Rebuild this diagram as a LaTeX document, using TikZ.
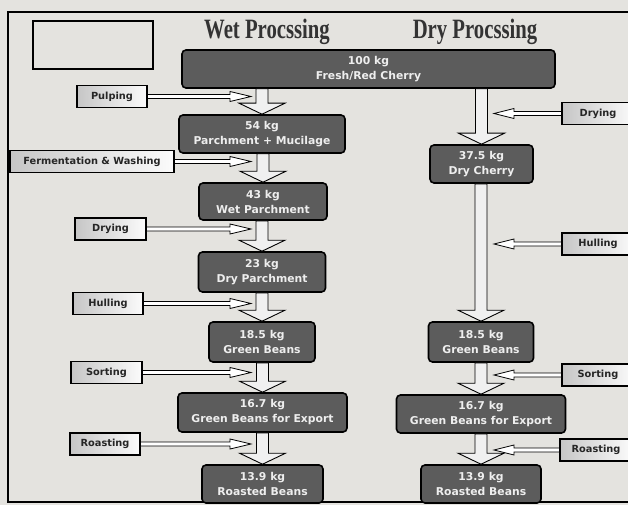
\documentclass[tikz,border=0pt]{standalone}
\usepackage{fontspec}
\usepackage{graphicx}
\setmainfont{Liberation Serif}
\newfontfamily\boxfont{DejaVu Sans}
\usetikzlibrary{calc}
\definecolor{paper}{RGB}{228,227,223}
\definecolor{darkfill}{RGB}{92,92,92}
\definecolor{lighttext}{RGB}{238,238,238}
\newcommand\vblock[2]{%
  \draw[vblockstyle] let \p1=(#1.south -| #2.north), \p2=(#2.north) in
    (\x1-6pt,\y1) -- (\x1-6pt,\y2+11pt) -- (\x1-23pt,\y2+11pt) -- (\x2,\y2)
    -- (\x1+23pt,\y2+11pt) -- (\x1+6pt,\y2+11pt) -- (\x1+6pt,\y1) -- cycle;}
\newcommand\hright[2]{%
  \draw[hblockstyle] let \p1=(#1.east), \p2=(#2 |- #1.east) in
    (\x1,\y1+2pt) -- (\x2-21pt,\y1+2pt) -- (\x2-21pt,\y1+5pt) -- (\x2,\y1)
    -- (\x2-21pt,\y1-5pt) -- (\x2-21pt,\y1-2pt) -- (\x1,\y1-2pt) -- cycle;}
\newcommand\hleft[2]{%
  \draw[hblockstyle] let \p1=(#1.west), \p2=(#2 |- #1.west) in
    (\x1,\y1+2pt) -- (\x2+20pt,\y1+2pt) -- (\x2+20pt,\y1+5pt) -- (\x2,\y1)
    -- (\x2+20pt,\y1-5pt) -- (\x2+20pt,\y1-2pt) -- (\x1,\y1-2pt) -- cycle;}
\begin{document}
\begin{tikzpicture}[x=1pt,y=-1pt,
  darkbox/.style={draw=black, line width=1.6pt, rounded corners=4pt, fill=darkfill,
    text=lighttext, font=\boxfont\bfseries\fontsize{10.8}{15}\selectfont, align=center, inner sep=0pt},
  procbox/.style={draw=black, line width=1.1pt, left color=gray!45, right color=gray!3,
    text=black!85, font=\boxfont\bfseries\fontsize{9.8}{11}\selectfont, inner sep=0pt, minimum height=22pt},
  titletext/.style={font=\bfseries\fontsize{28}{30}\selectfont, text=black!80, inner sep=0pt},
  vblockstyle/.style={draw=black, line width=0.9pt, fill=gray!12},
  hblockstyle/.style={draw=black, line width=0.8pt, fill=white}]
\useasboundingbox (0,0) rectangle (628,505);
\fill[paper] (0,0) rectangle (628,505);
\draw[line width=1.3pt] (8,12) rectangle (640,502);
% empty box top-left
\node[draw=black, line width=1.2pt, minimum width=120pt, minimum height=48pt, inner sep=0pt] (blank) at (93,45) {};
% titles
\node[titletext] (wettitle) at (267,32) {\scalebox{0.74}[1]{Wet Procssing}};
\node[titletext] (drytitle) at (475,32) {\scalebox{0.74}[1]{Dry Procssing}};
% product boxes
\node[darkbox, minimum width=373pt, minimum height=38pt] (top) at (368.5,69) {100 kg\\Fresh/Red Cherry};
\node[darkbox, minimum width=166pt, minimum height=38pt] (p54) at (262,134) {54 kg\\Parchment + Mucilage};
\node[darkbox, minimum width=128pt, minimum height=37pt] (p43) at (263,201.5) {43 kg\\Wet Parchment};
\node[darkbox, minimum width=127pt, minimum height=40pt] (p23) at (262,272) {23 kg\\Dry Parchment};
\node[darkbox, minimum width=106pt, minimum height=40pt] (gbw) at (262,342) {18.5 kg\\Green Beans};
\node[darkbox, minimum width=169pt, minimum height=39pt] (gbew) at (262.5,412.5) {16.7 kg\\Green Beans for Export};
\node[darkbox, minimum width=121pt, minimum height=38pt] (rbw) at (262.5,484) {13.9 kg\\Roasted Beans};
\node[darkbox, minimum width=103pt, minimum height=38pt] (dc) at (481.5,164) {37.5 kg\\Dry Cherry};
\node[darkbox, minimum width=105pt, minimum height=40pt] (gbd) at (481,342) {18.5 kg\\Green Beans};
\node[darkbox, minimum width=169pt, minimum height=38pt] (gbed) at (481,414) {16.7 kg\\Green Beans for Export};
\node[darkbox, minimum width=120pt, minimum height=38pt] (rbd) at (481,484) {13.9 kg\\Roasted Beans};
% process boxes
\node[procbox, minimum width=70pt] (pulp) at (112,96.5) {Pulping};
\node[procbox, minimum width=164pt] (ferm) at (92,161.5) {Fermentation \& Washing};
\node[procbox, minimum width=71pt] (dryw) at (110.5,229) {Drying};
\node[procbox, minimum width=70pt] (hullw) at (108,303.5) {Hulling};
\node[procbox, minimum width=71pt] (sortw) at (106.5,372.5) {Sorting};
\node[procbox, minimum width=70pt] (roastw) at (105,444) {Roasting};
\node[procbox, minimum width=72pt] (dryd) at (598,113.5) {Drying};
\node[procbox, minimum width=72pt] (hulld) at (598,244) {Hulling};
\node[procbox, minimum width=72pt] (sortd) at (598,375) {Sorting};
\node[procbox, minimum width=72pt] (roastd) at (596,450) {Roasting};
% arrow tip references
\coordinate (wtip) at (251,0);
\coordinate (dtip) at (494,0);
% vertical block arrows
\vblock{top}{p54}
\vblock{p54}{p43}
\vblock{p43}{p23}
\vblock{p23}{gbw}
\vblock{gbw}{gbew}
\vblock{gbew}{rbw}
\vblock{top}{dc}
\vblock{dc}{gbd}
\vblock{gbd}{gbed}
\vblock{gbed}{rbd}
% horizontal arrows
\hright{pulp}{wtip}
\hright{ferm}{wtip}
\hright{dryw}{wtip}
\hright{hullw}{wtip}
\hright{sortw}{wtip}
\hright{roastw}{wtip}
\hleft{dryd}{dtip}
\hleft{hulld}{dtip}
\hleft{sortd}{dtip}
\hleft{roastd}{dtip}
\end{tikzpicture}
\end{document}
